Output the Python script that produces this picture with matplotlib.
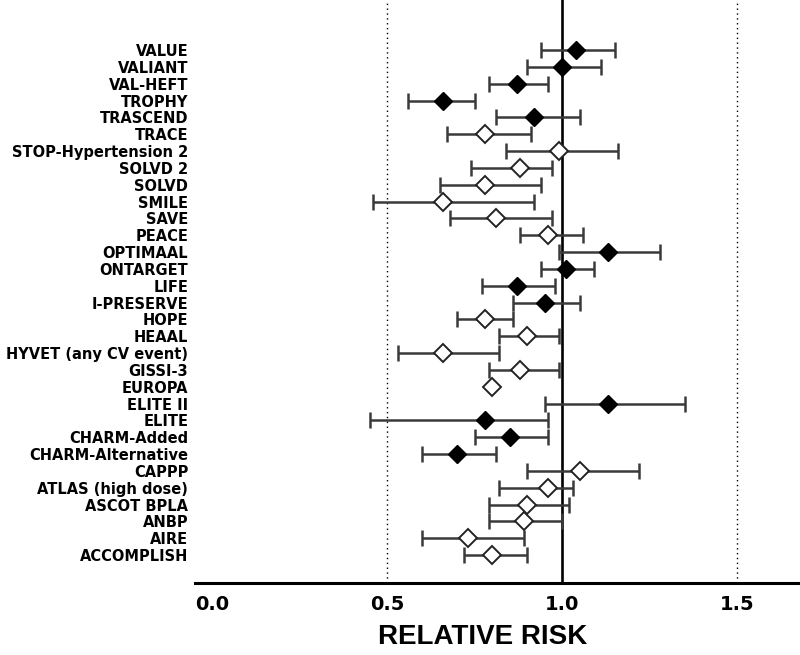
import matplotlib
matplotlib.use("Agg")
import matplotlib.pyplot as plt
import numpy as np

plt.rcParams['font.family'] = ['DejaVu Sans']

studies = ["VALUE", "VALIANT", "VAL-HEFT", "TROPHY", "TRASCEND", "TRACE",
           "STOP-Hypertension 2", "SOLVD 2", "SOLVD", "SMILE", "SAVE", "PEACE",
           "OPTIMAAL", "ONTARGET", "LIFE", "I-PRESERVE", "HOPE", "HEAAL",
           "HYVET (any CV event)", "GISSI-3", "EUROPA", "ELITE II", "ELITE",
           "CHARM-Added", "CHARM-Alternative", "CAPPP", "ATLAS (high dose)",
           "ASCOT BPLA", "ANBP", "AIRE", "ACCOMPLISH"]
rr = [1.04, 1.00, 0.87, 0.66, 0.92, 0.78,
      0.99, 0.88, 0.78, 0.66, 0.81, 0.96,
      1.13, 1.01, 0.87, 0.95, 0.78, 0.90,
      0.66, 0.88, 0.80, 1.13, 0.78,
      0.85, 0.70, 1.05, 0.96,
      0.90, 0.89, 0.73, 0.80]
ci_low = [0.94, 0.90, 0.79, 0.56, 0.81, 0.67,
          0.84, 0.74, 0.65, 0.46, 0.68, 0.88,
          0.99, 0.94, 0.77, 0.86, 0.70, 0.82,
          0.53, 0.79, 0.80, 0.95, 0.45,
          0.75, 0.60, 0.90, 0.82,
          0.79, 0.79, 0.60, 0.72]
ci_high = [1.15, 1.11, 0.96, 0.75, 1.05, 0.91,
           1.16, 0.97, 0.94, 0.92, 0.97, 1.06,
           1.28, 1.09, 0.98, 1.05, 0.86, 0.99,
           0.82, 0.99, 0.80, 1.35, 0.96,
           0.96, 0.81, 1.22, 1.03,
           1.02, 1.00, 0.89, 0.90]
filled = [True, True, True, True, True, False,
          False, False, False, False, False, False,
          True, True, True, True, False, False,
          False, False, False, True, True,
          True, True, False, False,
          False, False, False, False]
xticks = [0.0, 0.5, 1.0, 1.5]

fig = plt.figure(figsize=(8, 6.55), dpi=100)
ax = fig.add_axes([0.244, 0.11, 0.756, 0.89])

n = len(studies)
ypos = np.arange(n, 0, -1)

ax.axvline(1.0, color='black', lw=1.9, zorder=1)
ax.axvline(0.5, color='black', lw=1.0, ls=(0, (1, 2.5)), zorder=1)
ax.axvline(1.5, color='black', lw=1.0, ls=(0, (1, 2.5)), zorder=1)

for i in range(n):
    lo = rr[i] - ci_low[i]
    hi = ci_high[i] - rr[i]
    if ci_high[i] > ci_low[i]:
        ax.errorbar(rr[i], ypos[i], xerr=[[lo], [hi]], fmt='none',
                    ecolor='#3a3a3a', elinewidth=1.8, capsize=5.5,
                    capthick=1.8, zorder=2)
    if filled[i]:
        ax.plot(rr[i], ypos[i], marker='D', ms=9, color='black',
                mec='black', zorder=3)
    else:
        ax.plot(rr[i], ypos[i], marker='D', ms=9, color='white',
                mec='#222222', mew=1.4, zorder=3)

ax.set_xlim(-0.0486, 1.68)
ax.set_ylim(-0.66, 33.98)
ax.set_yticks(ypos)
ax.set_yticklabels(studies, fontsize=10.5, fontweight='bold')
ax.set_xticks(xticks)
ax.set_xticklabels([f"{t:.1f}" for t in xticks], fontsize=14, fontweight='bold')
ax.tick_params(axis='y', length=0, pad=5)
ax.tick_params(axis='x', length=0, pad=9)
for s in ['top', 'right', 'left']:
    ax.spines[s].set_visible(False)
ax.spines['bottom'].set_linewidth(2.2)
ax.set_xlabel("RELATIVE RISK", fontsize=20, fontweight='bold',
              family=['Liberation Sans', 'DejaVu Sans'])
ax.xaxis.set_label_coords(0.476, -0.75 / 0.89 * 0.089 - 0.0, transform=None) if False else None
ax.xaxis.set_label_coords(0.476, -(637 - 583) / (0.89 * 655))
ax.xaxis.label.set_va('center')

fig.savefig("out.png", dpi=100)
